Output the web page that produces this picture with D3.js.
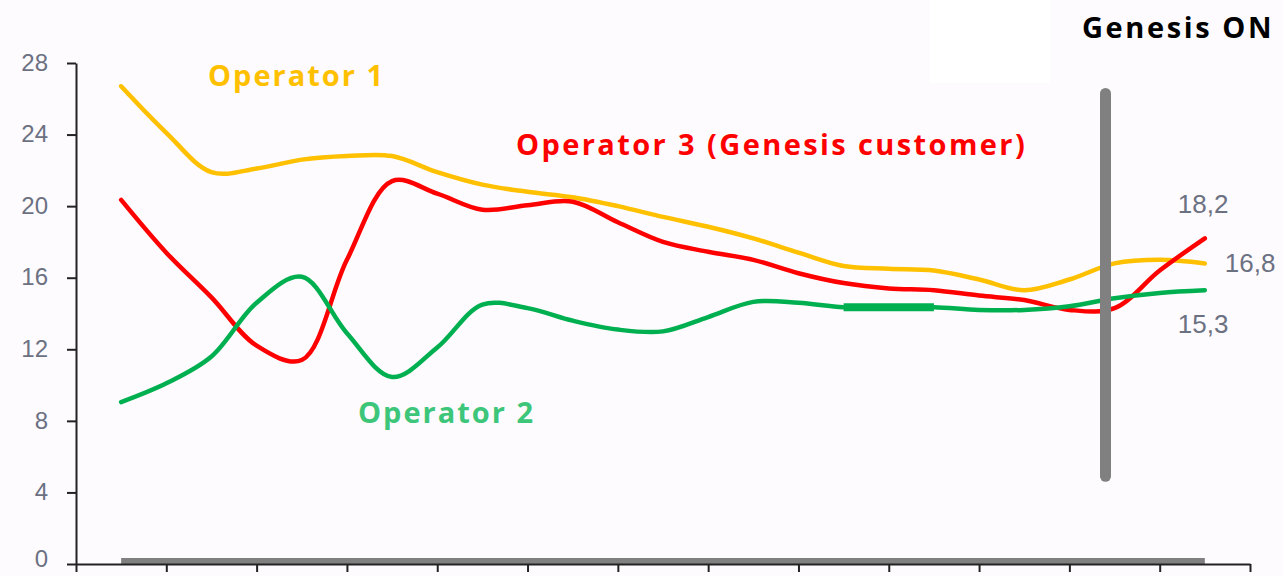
<!DOCTYPE html>
<html>
<head>
<meta charset="utf-8">
<script src="https://cdn.jsdelivr.net/npm/d3@7"></script>
<style>
  body { margin: 0; background: #fdfbfe; }
  svg { display: block; background: #fdfbfe; }
  .tick text { font-family: 'Liberation Sans', Arial, sans-serif; font-size: 24px; fill: #6c7182; }
  .series-label { font-family: 'Open Sans', Lato, sans-serif; font-weight: bold; font-size: 29px; letter-spacing: 2px; }
  .value-label { font-family: 'Liberation Sans', Arial, sans-serif; font-size: 26px; fill: #6c7182; }
</style>
</head>
<body>
<svg width="1283" height="576"></svg>
<script>
// values, two points per period (13 periods)
const operator1 = [26.7, 24.1, 21.9, 22.1, 22.6, 22.8, 22.8, 21.9, 21.2, 20.8, 20.5, 20.0, 19.4,
                   18.85, 18.2, 17.4, 16.65, 16.5, 16.4, 15.9, 15.3, 15.9, 16.8, 17.0, 16.8];
const operator2 = [9.05, 10.1, 11.6, 14.6, 16.05, 12.9, 10.45, 12.1, 14.5, 14.3, 13.6, 13.1, 13.0,
                   13.8, 14.65, 14.6, 14.35, 14.35, 14.35, 14.2, 14.2, 14.4, 14.85, 15.15, 15.3];
const operator3 = [20.35, 17.4, 14.9, 12.2, 11.4, 17.0, 21.4, 20.7, 19.8, 20.05, 20.25, 19.1, 18.0,
                   17.45, 17.0, 16.25, 15.7, 15.4, 15.3, 15.0, 14.75, 14.2, 14.3, 16.4, 18.2];
const baseline  = [0, 0, 0, 0, 0, 0, 0, 0, 0, 0, 0, 0, 0, 0, 0, 0, 0, 0, 0, 0, 0, 0, 0, 0, 0];
const highlight2 = [16, 18];           // thicker stretch of operator 2 (point indices)
const periodCount = 13;
const yTicks = [0, 4, 8, 12, 16, 20, 24, 28];
const genesisOn = { at: 21.8, from: 4.9, to: 26.3, label: 'Genesis ON' };
const endLabels = ['18,2', '16,8', '15,3'];

const svg = d3.select('svg');
const width = +svg.attr('width');
const height = +svg.attr('height');
const margin = { left: 76, top: 63, right: 33, bottom: 12 };
const innerWidth = width - margin.left - margin.right;
const innerHeight = height - margin.top - margin.bottom;

// faint white patch at top, as in the source image
svg.append('rect').attr('x', 930).attr('y', 0).attr('width', 120).attr('height', 83).attr('fill', '#ffffff');

const g = svg.append('g').attr('transform', `translate(${margin.left},${margin.top})`);

// x in half-period steps: point i sits at i, period boundaries at odd values
const xScale = d3.scaleLinear().domain([-1, periodCount * 2 - 1]).range([0, innerWidth]);
const yScale = d3.scaleLinear().domain([0, 28]).range([innerHeight, 0]);

const yAxis = d3.axisLeft(yScale).tickValues(yTicks).tickSize(9).tickSizeOuter(0).tickPadding(19);
const xAxis = d3.axisBottom(xScale)
  .tickValues(d3.range(0, periodCount + 1).map(i => i * 2 - 1))
  .tickSize(8).tickSizeOuter(0).tickFormat('');

const line = d3.line()
  .x((d, i) => xScale(i))
  .y(d => yScale(d))
  .curve(d3.curveCatmullRom.alpha(0.5));

// grey zero series sitting on the axis
g.append('path').datum(baseline)
  .attr('d', line)
  .attr('transform', 'translate(0,-3)')
  .attr('fill', 'none').attr('stroke', '#808080').attr('stroke-width', 6);

const yAxisG = g.append('g').call(yAxis);
yAxisG.select('.domain').attr('stroke', '#222').attr('stroke-width', 2);
yAxisG.selectAll('.tick line').attr('stroke', '#222').attr('stroke-width', 2);
yAxisG.selectAll('.tick text').attr('dy', d => d === 0 ? '0.12em' : '0.3em');

const xAxisG = g.append('g').attr('transform', `translate(0,${innerHeight})`).call(xAxis);
xAxisG.select('.domain').attr('stroke', '#222').attr('stroke-width', 2);
xAxisG.selectAll('.tick line').attr('stroke', '#222').attr('stroke-width', 2);
xAxisG.selectAll('.tick text').remove(); // periods have no labels

const series = [
  { values: operator1, color: '#ffc000' },
  { values: operator3, color: '#ff0000' },
  { values: operator2, color: '#00b050' }
];

g.selectAll('.series').data(series).enter().append('path')
  .attr('class', 'series')
  .attr('d', d => line(d.values))
  .attr('fill', 'none')
  .attr('stroke', d => d.color)
  .attr('stroke-width', 4.5)
  .attr('stroke-linejoin', 'round')
  .attr('stroke-linecap', 'round');

// thick highlighted stretch of operator 2
const hiLine = d3.line()
  .x(d => xScale(d.i))
  .y(d => yScale(d.v));
g.append('path')
  .datum(d3.range(highlight2[0], highlight2[1] + 1).map(i => ({ i, v: operator2[i] })))
  .attr('d', hiLine)
  .attr('fill', 'none').attr('stroke', '#00b050').attr('stroke-width', 8);

// Genesis ON marker
g.append('line')
  .attr('x1', xScale(genesisOn.at)).attr('x2', xScale(genesisOn.at))
  .attr('y1', yScale(genesisOn.to)).attr('y2', yScale(genesisOn.from))
  .attr('stroke', '#808080').attr('stroke-width', 11).attr('stroke-linecap', 'round');

svg.append('text').attr('class', 'series-label')
  .attr('x', 1082).attr('y', 38).attr('fill', '#000')
  .style('letter-spacing', '2.6px')
  .text(genesisOn.label);

// series labels
const labels = [
  { text: 'Operator 1', color: '#ffc000', x: 208, y: 86, ls: 2 },
  { text: 'Operator 3 (Genesis customer)', color: '#ff0000', x: 516, y: 155, ls: 2.4 },
  { text: 'Operator 2', color: '#3dc67a', x: 358, y: 423, ls: 2 }
];
svg.selectAll('.series-label-item').data(labels).enter().append('text')
  .attr('class', 'series-label series-label-item')
  .attr('x', d => d.x).attr('y', d => d.y)
  .attr('fill', d => d.color)
  .style('letter-spacing', d => d.ls + 'px')
  .text(d => d.text);

// end value labels
const last = operator1.length - 1;
const endItems = [
  { text: endLabels[0], v: operator3[last], dx: -27, dy: -25 },
  { text: endLabels[1], v: operator1[last], dx: 20, dy: 9 },
  { text: endLabels[2], v: operator2[last], dx: -27, dy: 43 }
];
g.selectAll('.value-label').data(endItems).enter().append('text')
  .attr('class', 'value-label')
  .attr('x', d => xScale(last) + d.dx)
  .attr('y', d => yScale(d.v) + d.dy)
  .text(d => d.text);
</script>
</body>
</html>
